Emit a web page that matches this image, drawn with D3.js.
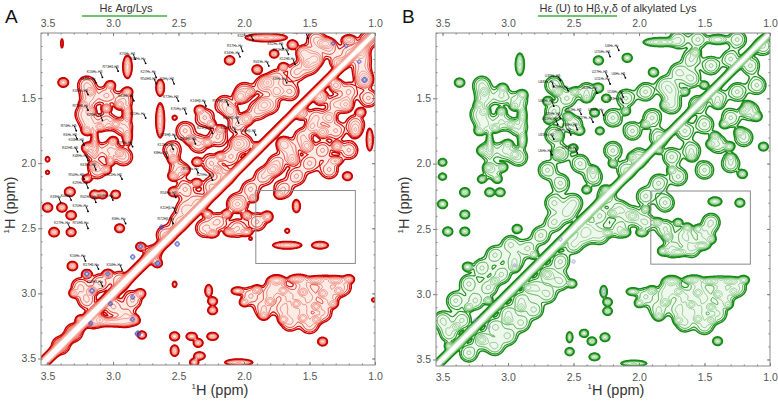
<!DOCTYPE html>
<html>
<head>
<meta charset="utf-8">
<script src="https://cdn.jsdelivr.net/npm/d3@7"></script>
<style>
  body { margin: 0; background: #fff; }
  svg { display: block; font-family: "Liberation Sans", Arial, sans-serif; }
</style>
</head>
<body>
<script>
// ************** spectrum data (ppm) *****************
const xDomain = [3.55, 1.0];
const yDomain = [1.0, 3.55];
const majorTicks = [3.5, 3.0, 2.5, 2.0, 1.5, 1.0];
const yTickLabels = [1.5, 2.0, 2.5, 3.0, 3.5];
const boxPpm = { x: [1.91, 1.15], y: [2.21, 2.77] };
const levels = [1, 1.45, 2.1, 3.05, 4.4, 6.4, 9.3, 13.5, 19.6, 28.4];

// resolved cross peaks: [x ppm, y ppm, height, x width, y width]
const peaksA = [
  [1.83,1.035,14,0.07,0.014],[1.63,1.09,12],[2.11,1.21,10],[1.90,1.28,10],[1.77,1.16,7],
  [1.38,1.08,10,0.03,0.02],[1.11,1.13,9,0.03,0.03],[1.08,1.36,12,0.03,0.03],[1.27,1.23,5,0.04,0.03],
  [1.20,1.05,5,0.03,0.02],[1.45,1.20,5,0.03,0.03],[1.30,1.40,5,0.03,0.03],[1.55,1.15,4,0.03,0.03],
  [1.11,1.61,9],[1.04,1.82,10,0.012,0.04],[1.29,1.87,9,0.02,0.02],[1.21,2.10,8],[1.40,1.76,7,0.025,0.025],
  [1.52,1.87,7,0.025,0.025],[1.63,1.97,6,0.025,0.025],[1.78,2.05,6,0.03,0.025],[1.42,1.49,7,0.03,0.03],
  [1.57,1.61,6,0.03,0.03],[1.22,1.55,6,0.03,0.03],[1.35,1.65,5,0.03,0.03],[1.15,1.75,5,0.025,0.03],
  [1.48,1.72,4,0.03,0.03],[1.70,1.85,5,0.03,0.03],[1.30,1.98,4,0.03,0.02],
  [2.34,1.59,8],[2.03,1.49,7,0.025,0.025],[1.82,1.38,7,0.025,0.025],[1.70,1.26,7],[1.52,1.23,6],
  [2.18,1.74,7],[1.98,1.66,7,0.025,0.025],[2.41,1.82,12],[2.28,1.84,8],[2.54,1.97,9],[2.54,2.10,10],
  [2.54,2.22,10],[2.36,1.99,8],[2.18,1.95,8],[2.36,2.15,7],[2.13,2.12,6],[1.90,1.87,6],
  [2.10,1.60,5,0.03,0.03],[1.85,1.55,5,0.03,0.03],[2.25,1.70,5],[2.45,2.05,6],[2.20,2.05,5],
  [2.05,1.85,5,0.03,0.03],[1.95,1.45,5],[1.75,1.45,5,0.03,0.03],
  [2.24,2.54,10,0.02,0.014],[2.11,2.53,10,0.02,0.014],[1.98,2.53,8,0.02,0.014],[2.13,2.39,7],
  [1.98,2.40,7],[1.82,2.41,8,0.02,0.02],[1.93,2.27,6],[1.73,2.24,6],[1.60,2.33,7,0.015,0.025],
  [2.28,2.39,6],[2.05,2.32,4,0.04,0.03],[2.35,2.35,5],
  [1.67,2.63,12,0.05,0.013],[1.42,2.63,10,0.03,0.013],[1.67,2.52,3,0.012,0.012],[1.95,2.58,2,0.01,0.01],
  [3.38,1.38,12],[2.89,1.26,12,0.016,0.04],[2.64,1.42,10,0.015,0.03],[2.64,1.67,12,0.015,0.06],
  [2.53,1.65,3,0.012,0.012],
  [3.17,1.45,8],[3.02,1.40,8],[2.89,1.45,9],[3.17,1.60,8],[3.05,1.58,8],[2.89,1.62,10,0.016,0.03],
  [3.20,1.75,8],[3.10,1.72,8],[2.98,1.70,7],[2.89,1.80,10,0.016,0.03],[3.20,1.88,7],
  [3.14,1.84,9,0.012,0.05],[2.95,1.92,7],[3.15,2.02,6],[3.05,2.05,7],[3.22,1.55,6],[2.95,1.55,6],
  [3.00,1.83,6],[3.20,2.12,6],[3.02,1.98,8,0.015,0.02],
  [3.33,2.22,12],[3.14,2.24,8],[3.08,2.24,8],[2.98,2.24,7],[3.50,1.97,4,0.01,0.012],
  [3.50,2.07,3,0.01,0.01],[3.39,1.08,2,0.008,0.03],
  [3.50,2.34,10],[3.39,2.34,10],[3.32,2.40,10],[3.45,2.53,11],[3.32,2.53,8],[2.95,2.50,8],
  [3.31,2.79,11],[3.20,2.85,9],[3.04,2.85,9],[3.16,2.98,8],[3.30,3.00,6],[3.25,3.20,7],[3.10,3.20,6],
  [2.84,3.20,12],[2.79,3.00,9],[2.79,2.64,7],[2.66,2.77,6],[2.78,3.32,6],[3.00,3.22,5,0.1,0.02],
  [2.27,2.98,10,0.013,0.022],[2.24,3.06,8],[2.24,3.13,8],[2.53,2.93,4,0.01,0.014],
  [2.53,3.33,9],[2.40,3.33,9,0.02,0.014],[2.24,3.33,10,0.02,0.014],[2.35,3.38,8],
  [2.53,3.44,10,0.015,0.02],[2.34,3.48,10,0.02,0.014],[2.38,3.53,6],[1.40,3.37,8],[1.01,3.05,3,0.01,0.01],
  [2.04,3.53,10,0.05,0.012],
  [1.75,2.90,10,0.03,0.015],[1.60,2.89,10,0.03,0.015],[1.45,2.90,10,0.03,0.015],[1.30,2.90,10,0.03,0.015],
  [1.20,2.89,9,0.02,0.015],[2.05,2.98,6,0.025,0.015],[1.90,2.97,7],[1.70,2.98,7],[1.55,2.99,7],
  [1.40,3.00,7],[1.28,2.98,6],[2.00,3.07,5],[1.80,3.06,7],[1.60,3.08,7],[1.45,3.10,7],[1.32,3.08,6],
  [1.85,3.17,6],[1.70,3.20,7],[1.55,3.19,7],[1.45,3.20,6]
];
// overlapped, unresolved intensity: [x ppm, y ppm, height]
const blobsA = [
  [2.00,1.45],[1.85,1.40],[1.75,1.35],[2.15,1.55],[2.30,1.65],[2.45,1.75],[2.55,1.90],[2.50,2.05],
  [2.45,2.20],[2.35,1.85],[2.20,1.80],[2.05,1.70],[1.90,1.60],[2.25,2.00],[2.10,1.95],[2.35,2.30],
  [2.25,2.18],[2.15,2.10],[2.00,1.85],[1.80,1.55],[1.65,1.45],[1.60,1.30],[1.50,1.25],[2.45,2.35],
  [1.10,1.30],[1.20,1.45],[1.05,1.50],[1.30,1.55],[1.15,1.70],[1.45,1.65],[1.30,1.75],[1.55,1.80],
  [1.40,1.90],[1.20,1.90],[1.65,1.90],[1.50,2.00],[1.75,2.00],[1.35,2.05],[1.60,2.10],[1.85,2.10],
  [1.95,2.20],[1.70,2.20],[2.05,2.30],[2.20,2.45],[2.05,2.50],[1.90,2.45],[2.30,2.50],
  [1.05,1.05],[1.20,1.15],[1.35,1.12],[1.50,1.18],[1.10,1.20],[1.45,1.05],
  [3.18,1.50],[3.05,1.48],[2.92,1.52],[3.18,1.70],[3.05,1.68],[2.92,1.72],[3.15,1.90],[3.02,1.90],
  [2.92,1.95],[3.12,2.05],[3.22,1.62],[3.20,1.40],
  [1.95,3.02],[1.80,3.00],[1.65,3.02],[1.50,3.03],[1.35,3.03],[1.25,2.95],[1.85,3.12],[1.70,3.12],
  [1.55,3.13],[1.40,3.15],[1.65,3.22],[1.50,3.24],[1.75,2.93],[1.55,2.93],[1.38,2.93],
  [3.20,3.05],[3.10,2.92],[3.00,3.10],[2.90,3.18],[3.15,3.20],[2.95,2.90],[3.25,2.95],[2.85,3.05],
  [3.30,3.30],[3.40,3.40],[2.70,2.70],[2.60,2.55],[2.50,2.45]
];

const peaksB = [
  [1.84,1.07,10,0.06,0.016],[2.31,1.21,9],[2.09,1.19,9],[1.89,1.30,9],[1.57,1.15,8],
  [1.40,1.05,6,0.04,0.02],[2.91,1.24,10,0.016,0.04],[3.37,1.38,10],
  [3.18,1.45,7],[3.04,1.42,7],[2.89,1.47,8],[3.18,1.60,7],[3.05,1.60,7],[2.89,1.63,9,0.016,0.03],
  [3.22,1.75,7],[3.10,1.73,7],[2.98,1.70,6],[2.89,1.82,9,0.016,0.03],[3.20,1.90,6],
  [3.14,1.85,7,0.012,0.05],[2.95,1.93,6],[3.15,2.03,6],[3.04,2.03,7],[3.22,1.55,6],[2.95,1.56,5],
  [3.00,1.85,5],[3.20,2.12,5],[3.08,2.12,5],
  [3.50,1.99,5],[3.33,2.22,10],[3.14,2.22,8],[3.06,2.22,8],[3.50,2.10,4],
  [2.31,1.42,10],[2.62,1.45,8],[2.49,1.45,7],[2.69,1.66,8],[2.54,1.64,7],[2.34,1.61,7],[2.62,1.79,8],
  [2.62,1.93,8],[2.40,1.50,5],[2.25,1.50,6],[2.70,1.52,6],[2.45,1.75,5],[2.50,1.88,5],[2.30,1.75,5],
  [2.10,1.60,5],[1.95,1.70,5],[2.20,2.00,5],[2.00,2.00,4],[2.35,2.05,6],[2.40,2.20,6],[2.25,2.20,5],
  [1.85,1.90,4],[2.05,1.95,5],[1.80,1.55,5],[1.65,1.45,5],[1.50,1.40,5],[1.45,1.85,5],[1.60,1.95,5],
  [1.35,1.70,5],[1.20,1.60,5],[1.40,1.55,4],[1.75,2.05,5],[1.30,1.95,4],
  [1.23,1.76,8],[1.31,1.87,9],[1.05,1.87,8],[1.17,1.56,8],[1.10,1.64,8],[1.21,2.08,8],[1.42,1.79,6],
  [2.24,2.53,8,0.02,0.014],[2.11,2.53,8,0.02,0.014],[1.98,2.53,8,0.02,0.014],[2.20,2.38,6],
  [2.05,2.40,6],[1.95,2.35,5],
  [1.42,2.29,9,0.025,0.016],[1.23,2.30,8],[1.63,2.49,7],[1.78,2.56,7],[1.52,2.63,8,0.03,0.015],
  [1.82,2.67,8],[1.70,2.68,7,0.03,0.015],[1.45,2.58,6],[1.70,2.45,5],[1.55,2.50,5],[1.86,2.45,6],
  [3.50,2.31,9],[3.33,2.39,8],[3.46,2.52,9],[3.33,2.52,8],[2.93,2.50,8],[3.31,2.79,9],
  [3.30,3.10,5],[3.20,3.35,5],[3.10,2.90,5],[2.90,3.10,5],[2.80,2.70,5],[2.70,2.85,5],[3.40,3.25,5],
  [3.00,3.20,5],[2.60,2.62,5],[3.45,3.40,6],[2.95,2.80,4],[3.15,3.05,5],[2.85,2.95,4],
  [2.51,2.92,6],[2.27,2.98,9,0.013,0.022],[2.24,3.06,7],[2.24,3.13,7],
  [2.53,3.33,8,0.012,0.02],[2.42,3.30,6],[2.36,3.36,7],[2.26,3.33,8],[2.34,3.48,8,0.02,0.014],
  [2.53,3.44,6],[1.40,3.36,8],[2.04,3.53,7,0.05,0.012],
  [1.75,2.90,9,0.03,0.015],[1.60,2.89,9,0.03,0.015],[1.45,2.90,9,0.03,0.015],[1.30,2.90,9,0.03,0.015],
  [1.20,2.89,8,0.02,0.015],[2.05,2.98,6,0.025,0.015],[1.90,2.97,6],[1.70,2.98,6],[1.55,2.99,6],
  [1.40,3.00,6],[1.28,2.98,5],[2.00,3.07,5],[1.80,3.06,6],[1.60,3.08,6],[1.45,3.10,6],[1.32,3.08,5],
  [1.85,3.17,6],[1.70,3.20,6],[1.55,3.19,6],[1.45,3.20,5]
];
const blobsB = [
  [3.18,1.50],[3.05,1.48],[2.92,1.52],[3.18,1.70],[3.05,1.68],[2.92,1.72],[3.15,1.90],[3.02,1.90],
  [2.92,1.95],[3.12,2.05],[3.22,1.62],[3.20,1.40],
  [2.65,1.40],[2.55,1.50],[2.40,1.45],[2.65,1.60],[2.50,1.70],[2.65,1.78],[2.60,1.92],[2.70,2.05],
  [2.60,2.15],[2.65,2.30],[2.50,2.30],[2.45,2.00],[2.35,2.10],[2.20,1.65],[2.10,1.50],[1.95,1.45],
  [1.80,1.40],[1.70,1.30],[1.60,1.20],[2.05,1.75],[1.90,1.65],[2.20,1.90],[2.10,2.05],[2.30,2.40],
  [2.25,2.25],[2.00,1.95],[1.85,1.80],[1.75,1.55],[2.40,2.50],[2.15,2.35],
  [1.05,1.10],[1.15,1.25],[1.30,1.20],[1.45,1.25],[1.10,1.40],[1.25,1.45],[1.40,1.50],[1.55,1.55],
  [1.15,1.60],[1.30,1.65],[1.50,1.70],[1.65,1.75],[1.20,1.80],[1.40,1.85],[1.60,1.90],[1.75,1.95],
  [1.30,2.00],[1.50,2.05],[1.70,2.10],[1.85,2.15],[1.95,2.25],[1.80,2.30],[2.05,2.40],[1.95,2.45],
  [2.15,2.50],[2.30,2.55],[1.60,1.35],[1.75,1.45],[1.70,1.05],[1.55,1.05],[1.25,1.05],
  [3.45,3.30],[3.35,3.20],[3.25,3.05],[3.15,2.95],[3.05,2.85],[2.95,2.75],[2.85,2.65],[2.75,2.55],
  [2.65,2.45],[2.55,2.38],[3.50,3.20],[3.40,3.05],[3.30,2.92],[3.20,2.80],[3.10,2.70],[2.98,2.62],
  [3.30,3.45],[3.20,3.35],[3.10,3.25],[3.00,3.15],[2.90,3.05],[2.80,2.95],[2.70,2.85],[2.60,2.75],
  [2.50,2.62],[2.42,2.55],[3.10,3.40],[3.00,3.32],[2.90,3.22],[2.80,3.12],[2.70,3.00],[2.60,2.90],
  [1.80,2.50],[1.65,2.55],[1.50,2.55],[1.75,2.65],[1.60,2.65],[1.45,2.45],
  [1.95,3.02],[1.80,3.00],[1.65,3.02],[1.50,3.03],[1.35,3.03],[1.25,2.95],[1.85,3.12],[1.70,3.12],
  [1.55,3.13],[1.40,3.15],[1.65,3.22],[1.50,3.24],[1.75,2.93],[1.55,2.93],[1.38,2.93]
];

// diagonal: [ppm, height, width across, width along]
const diagA = [
  [1.0,60,0.012,0.06],[1.1,65,0.012,0.06],[1.2,60,0.012,0.06],[1.3,70,0.012,0.06],[1.4,65,0.012,0.06],
  [1.5,70,0.012,0.06],[1.6,65,0.012,0.06],[1.7,75,0.012,0.06],[1.8,70,0.012,0.06],[1.9,75,0.012,0.06],
  [2.0,70,0.012,0.06],[2.1,75,0.012,0.06],[2.2,80,0.013,0.06],[2.3,75,0.013,0.06],[2.4,80,0.013,0.06],
  [2.5,85,0.013,0.06],[2.6,75,0.013,0.06],[2.7,85,0.014,0.06],[2.8,90,0.014,0.06],[2.9,85,0.014,0.06],
  [3.0,90,0.014,0.06],[3.1,85,0.014,0.06],[3.2,95,0.014,0.06],[3.3,90,0.014,0.06],[3.4,95,0.014,0.06],
  [3.5,90,0.014,0.06],[3.6,85,0.014,0.06]
];
const diagB = [
  [1.0,55,0.011,0.06],[1.1,60,0.011,0.06],[1.2,55,0.011,0.06],[1.3,60,0.011,0.06],[1.4,60,0.011,0.06],
  [1.5,60,0.011,0.06],[1.6,60,0.011,0.06],[1.7,65,0.011,0.06],[1.8,60,0.011,0.06],[1.9,65,0.011,0.06],
  [2.0,60,0.011,0.06],[2.1,65,0.011,0.06],[2.2,65,0.012,0.06],[2.3,60,0.012,0.06],[2.4,65,0.012,0.06],
  [2.5,65,0.012,0.06],[2.6,60,0.012,0.06],[2.7,65,0.012,0.06],[2.8,65,0.012,0.06],[2.9,65,0.012,0.06],
  [3.0,70,0.012,0.06],[3.1,65,0.012,0.06],[3.2,70,0.012,0.06],[3.3,65,0.012,0.06],[3.4,70,0.012,0.06],
  [3.5,70,0.012,0.06],[3.6,65,0.012,0.06]
];

// negative (blue) peaks
const negA = [
  [3.20,2.85,3],[3.16,2.98,3],[3.04,2.85,2.5],[2.85,2.72,3],[2.79,2.64,2.5],[2.66,2.77,3.5],[2.51,2.62,3],
  [2.63,2.49,2.5],[2.85,3.03,2.5],[3.02,3.08,2.5],[2.81,3.31,5],[3.17,3.23,2.5],[2.85,3.20,2.5],
  [1.08,1.36,4],[1.22,1.10,2],[1.12,1.22,2],[1.32,1.08,2]
];
const negB = [[2.27,2.98,2],[2.60,2.58,2],[2.50,2.75,2],[3.25,3.20,2],[3.15,3.25,2],[2.95,2.78,2]];

// peak labels: [x ppm, y ppm, text]
const labelsA = [
  [2.05,1.03,"K52Hε-Hβ"],[2.13,1.11,"R17Hε-Hγ"],[2.15,1.16,"K34Hε-Hγ"],[1.82,1.09,"K52Hε-Hδ"],
  [1.78,1.14,"R21Hδ-Hβ"],[1.63,1.01,"K60Hε-Hβ"],[1.93,1.23,"R41Hε-Hγ"],[1.73,1.21,"K12Hδ-Hγ"],
  [1.78,1.36,"K8Hε-Hγ"],[2.95,1.17,"K70Hε-Hδ"],[2.87,1.21,"R42Hε-Hγ"],[3.20,1.31,"K16Hε-Hβ"],
  [3.08,1.27,"R73Hδ-Hβ"],[2.79,1.31,"K27Hε-Hγ"],[3.25,1.36,"K48Hε-Hγ"],[2.79,1.36,"R54Hδ-Hγ"],
  [3.31,1.45,"K33Hε-Hδ"],[2.96,1.49,"K63Hε-Hγ"],[3.31,1.57,"R72Hδ-Hγ"],[3.20,1.64,"K29Hε-Hδ"],
  [2.87,1.63,"K11Hε-Hγ"],[3.40,1.72,"R74Hε-Hδ"],[3.38,1.79,"K6Hε-Hδ"],[3.34,1.83,"K33Hε-Hβ"],
  [3.39,1.89,"R42Hδ-Hβ"],[3.31,1.95,"K48Hε-Hβ"],[2.97,1.85,"K27Hε-Hδ"],[3.25,2.02,"K63Hε-Hβ"],
  [3.34,2.10,"R54Hε-Hβ"],[3.31,2.16,"K29Hε-Hβ"],[3.05,2.10,"K11Hε-Hβ"],[2.64,1.36,"K6Hγ-Hδ"],
  [2.62,1.50,"R72Hε-Hβ"],[2.56,1.59,"K70Hγ-Hβ"],[2.64,1.79,"R74Hβ-Hγ"],[2.41,1.53,"K16Hβ-Hγ"],
  [2.24,1.53,"R17Hβ-Hγ"],[2.16,1.66,"K34Hβ-Hδ"],[2.18,1.74,"K52Hβ-Hγ"],[2.36,1.74,"R21Hβ-Hγ"],
  [2.03,1.76,"K60Hβ-Hδ"],[2.49,1.82,"R41Hβ-Hδ"],[2.66,1.87,"K12Hα-Hβ"],[2.69,1.93,"K8Hα-Hβ"],
  [2.47,2.05,"R73Hα-Hγ"],[2.36,2.10,"K29Hα-Hβ"],[2.64,2.24,"R54Hα-Hβ"],[3.48,2.27,"K33Hα"],
  [3.40,2.26,"K48Hε"],[3.25,2.27,"R42Hδ-Hα"],[3.12,2.26,"K63Hε-Hα"],[3.31,2.34,"K70Hε-Hα"],
  [3.45,2.47,"K27Hε-Hα"],[3.31,2.47,"R74Hδ-Hα"],[3.01,2.44,"K6Hε-Hα"],[2.64,2.35,"K11Hβ-Hα"],
  [2.66,2.44,"R72Hβ-Hα"],[3.33,2.72,"K16Hε-Hα"],[3.23,2.79,"R17Hδ-Hα"],[3.05,2.79,"K34Hε-Hα"],
  [3.20,2.92,"K52Hδ-Hα"]
];
const labelsB = [
  [2.26,1.11,"U6Hε-Hγ"],[2.34,1.15,"U70Hε-Hδ"],[2.72,1.34,"U33Hε-Hδ"],[2.77,1.38,"U48Hε-Hγ"],
  [2.66,1.42,"U29Hε-Hγ"],[2.44,1.43,"U63Hε-Hγ"],[2.36,1.31,"U27Hε-Hδ"],[2.34,1.36,"U11Hε-Hγ"],
  [2.21,1.32,"U6Hε-Hδ"],[2.24,1.46,"U16Hε-Hγ"],[2.24,1.51,"U33Hε-Hγ"],[2.77,1.53,"U48Hε-Hδ"],
  [2.56,1.60,"U63Hε-Hδ"],[2.39,1.60,"U70Hε-Hγ"],[2.72,1.63,"U29Hε-Hδ"],[2.74,1.67,"U11Hε-Hβ"],
  [2.47,1.66,"U27Hε-Hγ"],[2.59,1.71,"U16Hε-Hβ"],[2.77,1.79,"U33Hε-Hβ"],[2.64,1.75,"U48Hε-Hβ"],
  [2.77,1.91,"U6Hε-Hβ"],[2.59,1.89,"U70Hε-Hβ"]
];

// ************** layout *****************
const W = 778, H = 401;
const blobHeight = 3.2, blobWidth = 0.045;
const panels = [
  { key: "A", title: "Hε Arg/Lys", left: 41, right: 375, top: 33, bottom: 365,
    titleX: 126, lineX: [82, 167], letterX: 5, yLabelX: 15, xLabelX: 220,
    peaks: peaksA, blobs: blobsA, diag: diagA, neg: negA, labels: labelsA,
    strokes: ["#c80000", "#d60a08", "#e0261a"], hi: ["#e94a3a", "#f6b2a2"], tint: "#fdebe5",
    negColor: "#3a4cc8" },
  { key: "B", title: "Hε (U) to Hβ,γ,δ of alkylated Lys", left: 436, right: 770, top: 33, bottom: 366,
    titleX: 618, lineX: [538, 617], letterX: 402, yLabelX: 409, xLabelX: 616,
    peaks: peaksB, blobs: blobsB, diag: diagB, neg: negB, labels: labelsB,
    strokes: ["#178a17", "#229322", "#36a034"], hi: ["#55b052", "#bfe3b8"], tint: "#eef8ec",
    negColor: "#9a9ce0" }
];

const svg = d3.select("body").append("svg")
  .attr("width", W)
  .attr("height", H);

const pad = 3;

// sum of 2D gaussians on a pixel grid
function buildField(p, x, y, peaks, diag) {
  const nx = p.right - p.left + 2 * pad, ny = p.bottom - p.top + 2 * pad;
  const vals = new Float64Array(nx * ny);
  const kx = Math.abs(x(2) - x(1)), ky = Math.abs(y(2) - y(1));
  const gx = d3.range(nx).map(i => x.invert(p.left - pad + i + 0.5));
  const gy = d3.range(ny).map(j => y.invert(p.top - pad + j + 0.5));

  peaks.forEach(pk => {
    const [px, py, a, sx = 0.018, sy = 0.016] = pk;
    const cx = x(px) - p.left + pad, cy = y(py) - p.top + pad;
    const sxp = sx * kx, syp = sy * ky;
    const i0 = Math.max(0, Math.floor(cx - 4 * sxp)), i1 = Math.min(nx - 1, Math.ceil(cx + 4 * sxp));
    const j0 = Math.max(0, Math.floor(cy - 4 * syp)), j1 = Math.min(ny - 1, Math.ceil(cy + 4 * syp));
    for (let j = j0; j <= j1; j++) {
      const dy = (j + 0.5 - cy) / syp;
      for (let i = i0; i <= i1; i++) {
        const dx = (i + 0.5 - cx) / sxp;
        vals[i + j * nx] += a * Math.exp(-0.5 * (dx * dx + dy * dy));
      }
    }
  });

  diag.forEach(([c, a, sp, sa]) => {
    for (let j = 0; j < ny; j++) {
      const v = gy[j];
      for (let i = 0; i < nx; i++) {
        const u = gx[i];
        const along = ((u - c) + (v - c)) / Math.SQRT2;
        if (Math.abs(along) > 4 * sa) continue;
        const perp = (u - v) / Math.SQRT2;
        if (Math.abs(perp) > 5 * sp) continue;
        vals[i + j * nx] += a * Math.exp(-0.5 * ((along / sa) ** 2 + (perp / sp) ** 2));
      }
    }
  });
  return { vals, nx, ny };
}

panels.forEach(p => {
  const x = d3.scaleLinear().domain(xDomain).range([p.left, p.right]);
  const y = d3.scaleLinear().domain(yDomain).range([p.top, p.bottom]);

  svg.append("clipPath").attr("id", "clip" + p.key)
    .append("rect")
      .attr("x", p.left).attr("y", p.top)
      .attr("width", p.right - p.left).attr("height", p.bottom - p.top);

  const plot = svg.append("g").attr("clip-path", `url(#clip${p.key})`);
  const cg = plot.append("g").attr("transform", `translate(${p.left - pad},${p.top - pad})`);

  // positive contours
  const allPeaks = p.peaks.concat(p.blobs.map(([bx, by, bh = blobHeight]) => [bx, by, bh, blobWidth, blobWidth]));
  const f = buildField(p, x, y, allPeaks, p.diag);
  const contours = d3.contours().size([f.nx, f.ny]).thresholds(levels)(f.vals);
  const shade = d3.interpolateRgb(p.hi[0], p.hi[1]);
  const n = levels.length;
  const colorAt = i => i < 3 ? p.strokes[i] : shade((i - 3) / (n - 4));
  const widthAt = i => [1.5, 1.1, 0.9][i] || 0.6;

  // light tint under the lowest level, white inside the highest
  cg.append("path").attr("d", d3.geoPath()(contours[0])).attr("fill", p.tint);
  cg.append("path").attr("d", d3.geoPath()(contours[n - 1])).attr("fill", "#fff");

  cg.selectAll("path.pos")
    .data(contours.map((c, i) => ({ c, i })).reverse())
    .join("path")
      .attr("class", "pos")
      .attr("d", d => d3.geoPath()(d.c))
      .attr("fill", "none")
      .attr("stroke", d => colorAt(d.i))
      .attr("stroke-width", d => widthAt(d.i));

  // negative contours (blue)
  const fn = buildField(p, x, y, p.neg.map(([a, b, h]) => [a, b, h, 0.012, 0.012]), []);
  const negC = d3.contours().size([fn.nx, fn.ny]).thresholds(levels.slice(0, 4))(fn.vals);
  cg.selectAll("path.neg")
    .data(negC)
    .join("path")
      .attr("class", "neg")
      .attr("d", d3.geoPath())
      .attr("fill", "none")
      .attr("stroke", p.negColor)
      .attr("stroke-width", 0.6);

  // peak labels
  const lab = plot.append("g").attr("font-size", 3.4).attr("fill", "#111");
  p.labels.forEach(([lx, ly, t], k) => {
    const px = x(lx), py = y(ly);
    lab.append("text").attr("x", px).attr("y", py).text(t);
    const ex = px + t.length * 1.7;
    const ey = py + (k % 2 ? 4 : 3);
    lab.append("line")
      .attr("x1", ex).attr("y1", py - 1)
      .attr("x2", ex + 2).attr("y2", ey)
      .attr("stroke", "#000").attr("stroke-width", 0.9);
    lab.append("circle").attr("cx", ex + 2).attr("cy", ey).attr("r", 0.9).attr("fill", "#000");
  });

  // highlight box
  svg.append("rect")
    .attr("x", x(boxPpm.x[0])).attr("y", y(boxPpm.y[0]))
    .attr("width", x(boxPpm.x[1]) - x(boxPpm.x[0]))
    .attr("height", y(boxPpm.y[1]) - y(boxPpm.y[0]))
    .attr("fill", "none").attr("stroke", "#8a8a8a").attr("stroke-width", 1);

  // axes
  const fmt = d3.format(".1f");
  const styleAxis = g => {
    g.select(".domain").remove();
    g.selectAll("line").attr("stroke", "#7a7a7a");
    g.selectAll("text").attr("fill", "#555").attr("font-size", 10.5)
      .attr("font-family", "Liberation Sans, Arial, sans-serif");
  };
  svg.append("g").attr("transform", `translate(0,${p.bottom})`)
    .call(d3.axisBottom(x).tickValues(majorTicks).tickSize(-3).tickPadding(8).tickFormat(fmt)).call(styleAxis);
  svg.append("g").attr("transform", `translate(0,${p.bottom})`)
    .call(d3.axisBottom(x).ticks(26).tickSize(-1.5).tickFormat("")).call(styleAxis);
  svg.append("g").attr("transform", `translate(0,${p.top})`)
    .call(d3.axisTop(x).tickValues(majorTicks).tickSize(-3).tickPadding(6).tickFormat(fmt)).call(styleAxis);
  svg.append("g").attr("transform", `translate(0,${p.top})`)
    .call(d3.axisTop(x).ticks(26).tickSize(-1.5).tickFormat("")).call(styleAxis);
  svg.append("g").attr("transform", `translate(${p.left},0)`)
    .call(d3.axisLeft(y).tickValues(yTickLabels).tickSize(3).tickPadding(2).tickFormat(fmt)).call(styleAxis);
  svg.append("g").attr("transform", `translate(${p.left},0)`)
    .call(d3.axisLeft(y).ticks(26).tickSize(-1.5).tickFormat("")).call(styleAxis);
  svg.append("g").attr("transform", `translate(${p.right},0)`)
    .call(d3.axisRight(y).tickValues(yTickLabels).tickSize(-3).tickFormat("")).call(styleAxis);
  svg.append("g").attr("transform", `translate(${p.right},0)`)
    .call(d3.axisRight(y).ticks(26).tickSize(-1.5).tickFormat("")).call(styleAxis);

  // frame
  svg.append("rect")
    .attr("x", p.left).attr("y", p.top)
    .attr("width", p.right - p.left).attr("height", p.bottom - p.top)
    .attr("fill", "none").attr("stroke", "#8a8a8a").attr("stroke-width", 1);

  // panel letter, title and underline
  svg.append("text").attr("x", p.letterX).attr("y", 23)
    .attr("font-size", 19).attr("fill", "#111").text(p.key);
  svg.append("text").attr("x", p.titleX).attr("y", 12)
    .attr("text-anchor", "middle").attr("font-size", 11).attr("fill", "#333").text(p.title);
  svg.append("line")
    .attr("x1", p.lineX[0]).attr("x2", p.lineX[1]).attr("y1", 16).attr("y2", 16)
    .attr("stroke", "#6cc46c").attr("stroke-width", 2);

  // axis titles
  const xt = svg.append("text").attr("x", p.xLabelX).attr("y", 395)
    .attr("text-anchor", "middle").attr("font-size", 14.5).attr("fill", "#333");
  xt.append("tspan").attr("font-size", 8).attr("dy", -6).text("1");
  xt.append("tspan").attr("dy", 6).text("H (ppm)");
  const yt = svg.append("text")
    .attr("transform", `translate(${p.yLabelX},205) rotate(-90)`)
    .attr("text-anchor", "middle").attr("font-size", 14.5).attr("fill", "#333");
  yt.append("tspan").attr("font-size", 8).attr("dy", -6).text("1");
  yt.append("tspan").attr("dy", 6).text("H (ppm)");
});
</script>
</body>
</html>
